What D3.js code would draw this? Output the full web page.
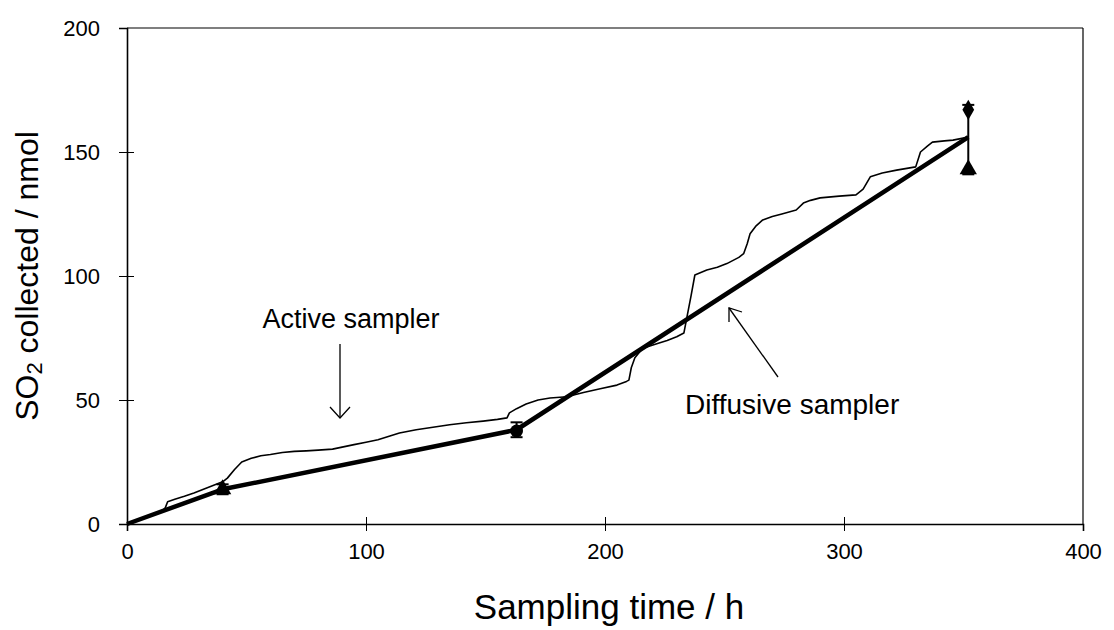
<!DOCTYPE html>
<html>
<head>
<meta charset="utf-8">
<script src="https://cdn.jsdelivr.net/npm/d3@7/dist/d3.min.js"></script>
<style>
  html, body { margin: 0; padding: 0; background: #fff; }
  svg { display: block; }
  text { font-family: Arial, "Liberation Sans", sans-serif; fill: #000; }
</style>
</head>
<body>
<svg id="chart" width="1114" height="630"></svg>
<script>
// ---- data ----
const xTicks = [0, 100, 200, 300, 400];
const yTicks = [0, 50, 100, 150, 200];

// Active sampler: cumulative SO2 (h, nmol)
const activeTime = [0, 5, 10, 15, 16, 17, 20, 24, 28, 32, 36, 40, 42, 45, 48, 52, 56, 60, 65, 70, 75, 80, 86, 90, 95, 100, 105, 110, 114, 121, 128, 135, 142, 149, 155, 159, 160, 163, 167, 172, 177, 184, 191, 198, 205, 209, 210, 211, 212.5, 215, 217.5, 222, 226, 230, 233, 234, 236, 237.6, 242.6, 247, 251, 256, 258, 259.5, 260.7, 263, 266, 270, 274, 280, 283, 286, 290, 298, 305, 308, 311, 316, 322, 330, 331, 332, 335, 337, 342, 345.6, 352];
const activeValue = [0, 1.8, 3.6, 5.5, 6.5, 9, 10, 11.2, 12.5, 14, 15.5, 17, 18.5, 22, 25, 26.5, 27.5, 28, 28.8, 29.3, 29.5, 29.8, 30.2, 31, 32, 33, 34, 35.5, 36.7, 38, 39, 40, 40.8, 41.5, 42.2, 42.8, 44.8, 46.5, 48.4, 50, 50.8, 51.3, 53, 54.5, 56, 57.5, 58, 63, 67, 70, 71.4, 72.8, 74, 75.5, 77, 82, 92, 100.4, 102.4, 103.5, 105, 107.5, 109, 113, 117, 120, 122.6, 124, 125, 126.6, 129.4, 130.5, 131.5, 132.2, 132.7, 135, 140, 141.5, 142.7, 144, 147, 150, 152.5, 154, 154.5, 154.8, 156];

// Diffusive sampler: mean collected amounts (h, nmol)
const diffTime = [0, 40, 163, 352];
const diffValue = [0, 14, 38, 156];
const diffLow = [0, 12, 35, 141];
const diffHigh = [0, 16, 41, 169];

// individual sampler markers
const markerTime = [40, 163, 352, 352];
const markerValue = [14, 37.5, 167, 143];
const markerShape = ["triangle", "circle", "diamond", "triangle"];

const labels = {
  x: "Sampling time / h",
  active: "Active sampler",
  diffusive: "Diffusive sampler"
};

// ---- chart ----
const svg = d3.select("#chart");
const x = d3.scaleLinear().domain([0, 400]).range([127, 1083]);
const y = d3.scaleLinear().domain([0, 200]).range([524, 28]);

// frame (top and right)
svg.append("line").attr("x1", x(0)).attr("x2", x(400)).attr("y1", y(200)).attr("y2", y(200))
  .attr("stroke", "#000").attr("stroke-width", 1.2);
svg.append("line").attr("x1", x(400)).attr("x2", x(400)).attr("y1", y(200)).attr("y2", y(0))
  .attr("stroke", "#000").attr("stroke-width", 1.2);

// y axis
const yAxis = svg.append("g").attr("transform", `translate(${x(0)},0)`)
  .call(d3.axisLeft(y).tickValues(yTicks).tickSize(8).tickPadding(27).tickFormat(d3.format("d")));
yAxis.select(".domain").attr("stroke", "#000").attr("stroke-width", 1.6);
yAxis.selectAll(".tick line").attr("x2", d => (d === 0 || d === 200) ? 0 : 7).attr("x1", -8).attr("stroke", "#000");
yAxis.selectAll(".tick text").attr("font-size", 22).attr("x", -27).attr("dy", "0.35em")
  .style("font-family", "Arial, 'Liberation Sans', sans-serif");

// x axis
const xAxis = svg.append("g").attr("transform", `translate(0,${y(0)})`)
  .call(d3.axisBottom(x).tickValues(xTicks).tickSize(7).tickPadding(12).tickFormat(d3.format("d")));
xAxis.select(".domain").attr("stroke", "#000").attr("stroke-width", 1.6);
xAxis.selectAll(".tick line").attr("y1", d => (d === 0 || d === 400) ? 0 : -7).attr("y2", 7).attr("stroke", "#000");
xAxis.selectAll(".tick text").attr("font-size", 22)
  .style("font-family", "Arial, 'Liberation Sans', sans-serif");

// axis titles
svg.append("text").attr("x", 609).attr("y", 619).attr("text-anchor", "middle")
  .attr("font-size", 35).text(labels.x);
const yt = svg.append("text").attr("transform", "translate(38,276) rotate(-90)")
  .attr("text-anchor", "middle").attr("font-size", 32);
yt.append("tspan").text("SO");
yt.append("tspan").attr("font-size", 22).attr("dy", 4).text("2");
yt.append("tspan").attr("dy", -4).text(" collected / nmol");

// active sampler line
const activeData = activeTime.map((t, i) => [t, activeValue[i]]);
const line = d3.line().x(d => x(d[0])).y(d => y(d[1]));
svg.append("path").datum(activeData).attr("d", line)
  .attr("fill", "none").attr("stroke", "#000").attr("stroke-width", 1.6).attr("stroke-linejoin", "round");

// diffusive line
const diffData = diffTime.map((t, i) => [t, diffValue[i]]);
svg.append("path").datum(diffData).attr("d", line)
  .attr("fill", "none").attr("stroke", "#000").attr("stroke-width", 4.5).attr("stroke-linejoin", "round");

// error bars
diffTime.forEach((t, i) => {
  if (t === 0) return;
  const g = svg.append("g");
  g.append("line").attr("x1", x(t)).attr("x2", x(t)).attr("y1", y(diffLow[i])).attr("y2", y(diffHigh[i]))
    .attr("stroke", "#000").attr("stroke-width", 2);
  [diffLow[i], diffHigh[i]].forEach(v => {
    g.append("line").attr("x1", x(t) - 6).attr("x2", x(t) + 6).attr("y1", y(v)).attr("y2", y(v))
      .attr("stroke", "#000").attr("stroke-width", 2);
  });
});

// markers
const symType = { triangle: d3.symbolTriangle, circle: d3.symbolCircle, diamond: d3.symbolDiamond };
markerTime.forEach((t, i) => {
  svg.append("path")
    .attr("d", d3.symbol().type(symType[markerShape[i]]).size(markerShape[i] === "diamond" ? 120 : 130)())
    .attr("transform", `translate(${x(t)},${y(markerValue[i])})`)
    .attr("fill", "#000");
});

// annotations
svg.append("text").attr("x", 351).attr("y", 328).attr("text-anchor", "middle")
  .attr("font-size", 27).text(labels.active);
svg.append("line").attr("x1", 340).attr("x2", 340).attr("y1", 344).attr("y2", 418)
  .attr("stroke", "#000").attr("stroke-width", 1.3);
svg.append("path").attr("d", "M330,407 L340,418 L350,407").attr("fill", "none")
  .attr("stroke", "#000").attr("stroke-width", 1.3);

svg.append("text").attr("x", 685).attr("y", 414).attr("text-anchor", "start")
  .attr("font-size", 28).text(labels.diffusive);
svg.append("line").attr("x1", 778).attr("x2", 729).attr("y1", 377).attr("y2", 308)
  .attr("stroke", "#000").attr("stroke-width", 1.3);
svg.append("path").attr("d", "M729,322 L729,308 L742,312").attr("fill", "none")
  .attr("stroke", "#000").attr("stroke-width", 1.3);
</script>
</body>
</html>
